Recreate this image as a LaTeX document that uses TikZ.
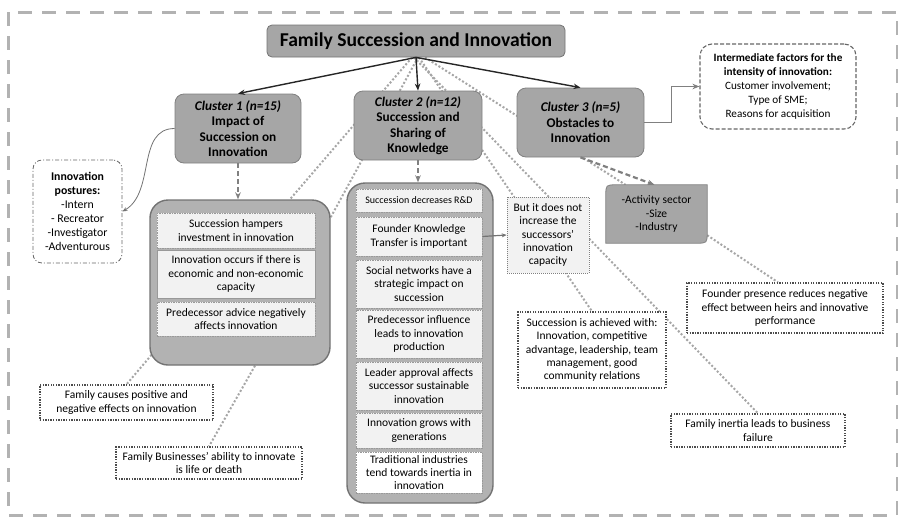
\documentclass[tikz,border=0pt]{standalone}
\usepackage{fontspec}
\setmainfont{Carlito}
\usetikzlibrary{positioning, calc, arrows.meta, backgrounds}

\begin{document}
\begin{tikzpicture}[x=1pt, y=-1pt, >={Stealth[length=7pt, width=5.5pt]},
	txt/.style={font=\fontsize{11.5}{13.2}\selectfont, align=center},
	heading/.style={draw=black!55, fill=black!35, rounded corners=5pt, line width=0.8pt, font=\fontsize{19.6}{22}\selectfont\bfseries, minimum width=298pt, minimum height=32pt},
	cluster/.style={draw=black!50, fill=black!35, rounded corners=9pt, line width=0.8pt, align=center, inner sep=1pt, font=\fontsize{13.3}{15.5}\selectfont\bfseries},
	holder/.style={draw=black!55, fill=black!30, rounded corners=18pt, line width=1.4pt},
	inbox/.style={txt, draw=black!40, fill=black!5, dash pattern=on 1.5pt off 1pt, line width=0.6pt, inner sep=1pt},
	note/.style={txt, draw=black!70, fill=white, line width=1.3pt, dash pattern=on 1.3pt off 1.3pt},
	link/.style={draw=black!35, line width=2pt, dash pattern=on 2pt off 2pt},
	feed/.style={->, draw=black!50, line width=2.2pt, dash pattern=on 5pt off 3pt},
	lead/.style={->, draw=black!85, line width=1.4pt},
	thinarrow/.style={->, >={Stealth[length=5pt, width=4pt]}}]
	\useasboundingbox (0,0) rectangle (898,520);
	\draw[black!30, line width=3pt, dash pattern=on 14pt off 10pt] (8,12) rectangle (897,515);

	% title and clusters
	\node[heading] (T) at (416,41) {Family Succession and Innovation};
	\node[cluster, minimum width=126pt, minimum height=69pt] (C1) at (238,128.5) {\textit{Cluster 1 (n=15)}\\Impact of\\Succession on\\Innovation};
	\node[cluster, minimum width=128pt, minimum height=69pt] (C2) at (418,125.5) {\textit{Cluster 2 (n=12)}\\Succession and\\Sharing of\\Knowledge};
	\node[cluster, minimum width=127pt, minimum height=69pt] (C3) at (580.5,122.5) {\textit{Cluster 3 (n=5)}\\Obstacles to\\Innovation};
	\draw[lead] (T.south) -- (C1.north);
	\draw[lead] (T.south) -- (C2.north);
	\draw[lead] (T.south) -- (C3.north);

	% side notes of the clusters
	\node[txt, font=\fontsize{11.2}{14}\selectfont, draw=black!60, line width=1.1pt, dash pattern=on 4pt off 2pt, rounded corners=12pt, minimum width=156pt, minimum height=85pt] (IF) at (778,86.5) {\textbf{Intermediate factors for the}\\\textbf{intensity of innovation:}\\Customer involvement;\\Type of SME;\\Reasons for acquisition};
	\node[txt, font=\fontsize{11.8}{14}\selectfont, draw=black!60, line width=0.8pt, dash pattern=on 4pt off 2pt on 1pt off 2pt, rounded corners=9pt, minimum width=89pt, minimum height=103pt] (PO) at (77.5,211.5) {\textbf{Innovation}\\\textbf{postures:}\\-Intern\\- Recreator\\-Investigator\\-Adventurous};
	\draw[->, draw=black!50, line width=1.5pt] (C3.east) -- ++(27,0) |- (IF.west);
	\draw[thinarrow, draw=black!55, line width=0.8pt] (C1.west) to[out=180, in=30] (PO.east);

	% cluster 1 findings
	\node[holder, minimum width=180pt, minimum height=165pt] (K1) at (240,282.5) {};
	\node[inbox, minimum width=158pt, minimum height=35pt] (A1) at (236,230.5) {Succession hampers\\investment in innovation};
	\node[inbox, solid, minimum width=158pt, minimum height=48pt] (A2) at (236,274) {Innovation occurs if there is\\economic and non-economic\\capacity};
	\node[inbox, minimum width=158pt, minimum height=34pt] (A3) at (236,319) {Predecessor advice negatively\\affects innovation};
	\draw[feed] (C1.south) -- (C1.south |- K1.north);

	% cluster 2 findings
	\node[holder, minimum width=146pt, minimum height=320pt] (K2) at (420,343) {};
	\node[inbox, font=\fontsize{10}{12}\selectfont, minimum width=126pt, minimum height=23pt] (B1) at (419,200.5) {Succession decreases R\&D};
	\node[inbox, minimum width=126pt, minimum height=39pt] (B2) at (419,236.5) {Founder Knowledge\\Transfer is important};
	\node[inbox, minimum width=126pt, minimum height=48pt] (B3) at (419,284) {Social networks have a\\strategic impact on\\succession};
	\node[inbox, minimum width=126pt, minimum height=48pt] (B4) at (419,334) {Predecessor influence\\leads to innovation\\production};
	\node[inbox, minimum width=126pt, minimum height=48pt] (B5) at (419,386) {Leader approval affects\\successor sustainable\\innovation};
	\node[inbox, minimum width=126pt, minimum height=35pt] (B6) at (419,430.5) {Innovation grows with\\generations};
	\node[inbox, fill=white, minimum width=126pt, minimum height=41pt] (B7) at (419,472.5) {Traditional industries\\tend towards inertia in\\innovation};
	\draw[feed] (C2.south) -- (C2.south |- K2.north);
	\node[inbox, draw=black!50, dash pattern=on 1pt off 1pt, minimum width=82pt, minimum height=76pt] (BN) at (548,235) {But it does not\\increase the\\successors'\\innovation\\capacity};
	\draw[thinarrow, draw=black!55, line width=1.2pt] (B2.east) -- (BN.west);

	% cluster 3 factors
	\node[txt, minimum width=101pt, minimum height=58pt] (AS) at (656.5,214) {-Activity sector\\-Size\\-Industry};
	\draw[feed] (C3.south) -- ([xshift=-2pt]AS.north);

	% dotted notes
	\node[note, minimum width=173pt, minimum height=35pt] (FC) at (126.5,402.5) {Family causes positive and\\negative effects on innovation};
	\node[note, minimum width=186pt, minimum height=32pt] (FB) at (209,463) {Family Businesses' ability to innovate\\is life or death};
	\node[note, minimum width=148pt, minimum height=76pt] (SA) at (592,350) {Succession is achieved with:\\Innovation, competitive\\advantage, leadership, team\\management, good\\community relations};
	\node[note, minimum width=174pt, minimum height=33pt] (FI) at (758,430.5) {Family inertia leads to business\\failure};
	\node[note, minimum width=196pt, minimum height=50pt] (FP) at (785,308) {Founder presence reduces negative\\effect between heirs and innovative\\performance};

	\begin{scope}[on background layer]
		\draw[link] ([xshift=-4pt]T.south) -- ([xshift=50pt]K1.north);
		\draw[link] ([xshift=2pt]T.south) -- ([yshift=-18pt]K1.north east);
		\draw[link] ([xshift=-2pt]T.south) -- (FI.north);
		\draw[link] ([xshift=3pt]T.south) -- (SA.north);
		\draw[link] ([xshift=9pt]T.south) -- ([xshift=-31pt]AS.north);
		\draw[link] ([xshift=10pt, yshift=20pt]K1.south west) -- (FC.north);
		\draw[link] ([xshift=15pt]K1.south) -- (FB.north);
		\draw[link] ([yshift=8pt]AS.south east) -- ([xshift=-7pt]FP.north);
		% only two corners rounded
		\draw[fill=black!35, draw=black!50, line width=0.8pt] (AS.south west) -- ([yshift=-11pt]AS.north west) .. controls (AS.north west) .. ([xshift=11pt]AS.north west) -- (AS.north east) -- ([yshift=11pt]AS.south east) .. controls (AS.south east) .. ([xshift=-11pt]AS.south east) -- cycle;
	\end{scope}
\end{tikzpicture}
\end{document}
